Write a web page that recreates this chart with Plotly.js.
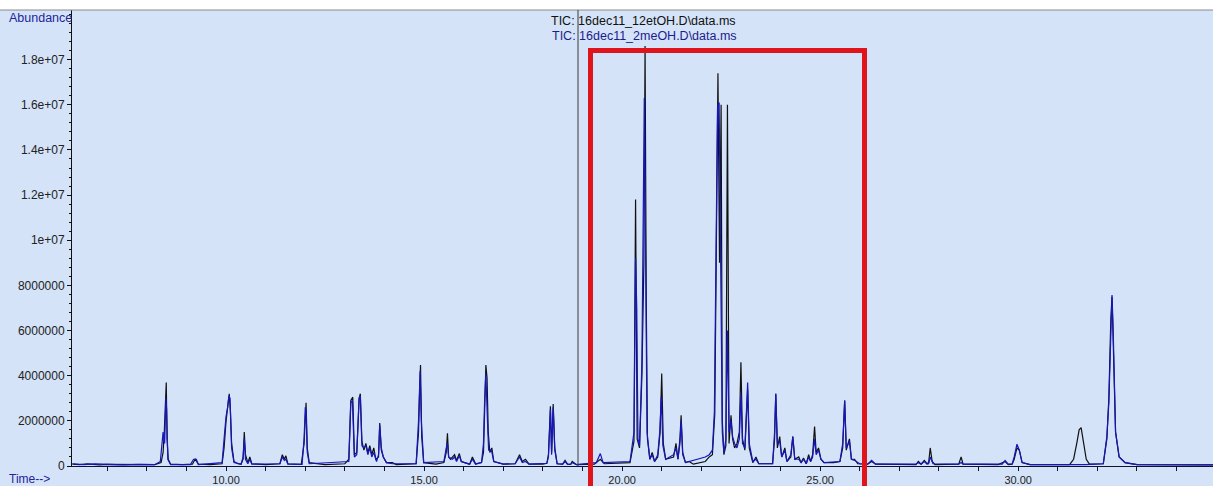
<!DOCTYPE html>
<html><head><meta charset="utf-8">
<script src="https://cdn.plot.ly/plotly-3.0.1.min.js"></script>
<style>html,body{margin:0;padding:0;background:#D4E3F8;}</style>
</head><body>
<div id="chart" style="width:1213px;height:486px;"></div>
<script>
// Series names
const seriesEt = "TIC: 16dec11_12etOH.D\\data.ms";
const seriesMe = "TIC: 16dec11_2meOH.D\\data.ms";

// Retention time (min) and abundance, etOH run (black)
const etTime = [6.12,6.3,6.5,6.8,7.0,7.3,7.6,7.9,8.2,8.36,8.41,8.44,8.47,8.49,8.51,8.54,8.6,8.9,9.15,9.22,9.3,9.6,9.9,9.95,10.0,10.05,10.08,10.11,10.14,10.2,10.3,10.38,10.43,10.46,10.49,10.55,10.6,10.65,11.0,11.36,11.42,11.47,11.51,11.56,11.9,11.97,12.0,12.02,12.05,12.1,12.5,13.0,13.1,13.15,13.2,13.24,13.3,13.36,13.39,13.43,13.48,13.53,13.58,13.63,13.68,13.73,13.78,13.85,13.88,13.92,13.97,14.05,14.2,14.3,14.8,14.86,14.89,14.91,14.94,14.99,15.3,15.5,15.56,15.59,15.62,15.67,15.72,15.77,15.82,15.89,15.94,16.02,16.15,16.22,16.3,16.45,16.5,16.53,16.56,16.59,16.62,16.66,16.71,16.76,17.0,17.3,17.41,17.48,17.56,17.65,18.0,18.1,18.14,18.19,18.22,18.26,18.3,18.36,18.5,18.56,18.62,18.7,18.74,18.85,19.3,19.45,19.55,20.2,20.3,20.34,20.38,20.44,20.5,20.55,20.58,20.61,20.64,20.7,20.76,20.82,20.9,20.96,21.0,21.04,21.1,21.3,21.36,21.41,21.46,21.49,21.53,21.6,21.69,21.8,22.1,22.2,22.28,22.34,22.38,22.42,22.46,22.5,22.53,22.57,22.62,22.66,22.7,22.75,22.79,22.84,22.9,22.96,23.0,23.04,23.1,23.17,23.21,23.3,23.38,23.45,23.8,23.85,23.88,23.92,23.98,24.03,24.11,24.16,24.26,24.31,24.36,24.46,24.52,24.58,24.65,24.71,24.76,24.81,24.86,24.9,24.96,25.02,25.1,25.34,25.5,25.57,25.62,25.66,25.74,25.79,25.87,25.95,26.2,26.3,26.4,27.0,27.42,27.48,27.55,27.63,27.7,27.74,27.78,27.83,27.9,28.5,28.56,28.61,29.5,29.67,29.75,29.85,29.9,29.97,30.03,30.1,30.3,31.3,31.4,31.48,31.54,31.59,31.64,31.72,31.8,32.15,32.24,32.29,32.34,32.37,32.4,32.46,32.55,32.7,33.0,34.92];
const etAbund = [80000,60000,90000,50000,70000,60000,50000,70000,60000,150000,600000,1500000,2500000,3700000,1200000,300000,80000,60000,80000,300000,80000,60000,100000,800000,2000000,2900000,3200000,2400000,1000000,200000,100000,80000,300000,1500000,500000,150000,400000,100000,60000,100000,500000,300000,450000,100000,70000,1000000,2500000,2800000,800000,150000,60000,100000,300000,2900000,3050000,500000,600000,3000000,3200000,1100000,700000,1000000,600000,900000,500000,800000,300000,400000,1900000,700000,400000,150000,150000,60000,100000,1500000,3500000,4470000,1300000,150000,80000,150000,600000,1450000,400000,300000,400000,500000,250000,550000,200000,150000,80000,400000,100000,150000,600000,2500000,4470000,3900000,1500000,600000,800000,200000,80000,100000,500000,200000,300000,80000,80000,120000,500000,2650000,600000,2750000,800000,100000,80000,250000,80000,70000,200000,60000,80000,300000,100000,150000,1100000,11800000,1200000,800000,4000000,9000000,18600000,7300000,1200000,300000,600000,200000,400000,1500000,4100000,1000000,300000,400000,1000000,300000,1200000,2250000,600000,150000,200000,80000,200000,400000,500000,2300000,9000000,17400000,9000000,16000000,2000000,500000,900000,16000000,1000000,2250000,1200000,800000,1000000,1500000,4600000,1200000,700000,3400000,800000,150000,400000,100000,100000,1200000,3200000,800000,1300000,400000,800000,200000,400000,1300000,300000,400000,150000,350000,100000,500000,200000,500000,1750000,600000,800000,300000,150000,150000,200000,800000,2900000,700000,1200000,300000,300000,100000,80000,200000,80000,60000,60000,200000,80000,250000,100000,150000,800000,200000,60000,80000,400000,80000,60000,200000,60000,80000,300000,800000,700000,150000,60000,60000,300000,1000000,1600000,1700000,1200000,300000,80000,100000,1200000,3000000,6500000,7500000,5500000,1500000,400000,150000,60000,50000];

// Retention time (min) and abundance, meOH run (blue)
const meTime = [6.12,6.4,6.7,7.0,7.4,7.8,8.2,8.34,8.41,8.45,8.48,8.5,8.53,8.6,9.1,9.18,9.25,9.3,9.9,9.95,10.0,10.04,10.07,10.1,10.14,10.2,10.38,10.43,10.46,10.49,10.55,10.6,10.65,11.36,11.42,11.47,11.51,11.56,11.92,11.97,12.0,12.02,12.05,12.1,13.1,13.15,13.19,13.24,13.3,13.36,13.39,13.43,13.48,13.53,13.58,13.63,13.68,13.73,13.8,13.85,13.88,13.92,13.97,14.05,14.2,14.8,14.86,14.9,14.93,14.99,15.5,15.56,15.59,15.62,15.67,15.72,15.77,15.82,15.89,15.94,16.02,16.15,16.22,16.3,16.45,16.5,16.53,16.56,16.6,16.63,16.7,16.76,17.0,17.3,17.41,17.48,17.56,17.65,18.1,18.14,18.19,18.22,18.26,18.3,18.36,18.5,18.56,18.62,18.7,18.74,18.85,19.35,19.45,19.52,20.2,20.3,20.34,20.37,20.4,20.44,20.5,20.56,20.6,20.63,20.7,20.76,20.82,20.9,20.95,20.99,21.03,21.1,21.3,21.36,21.41,21.46,21.49,21.53,21.6,22.1,22.2,22.28,22.33,22.37,22.41,22.45,22.49,22.53,22.57,22.62,22.66,22.7,22.75,22.79,22.84,22.9,22.96,23.0,23.04,23.1,23.17,23.21,23.3,23.38,23.45,23.8,23.85,23.88,23.92,23.98,24.03,24.11,24.16,24.26,24.31,24.36,24.46,24.52,24.58,24.65,24.71,24.76,24.81,24.86,24.9,24.96,25.02,25.1,25.5,25.57,25.62,25.66,25.74,25.79,25.87,26.0,26.2,26.3,26.4,27.42,27.48,27.55,27.63,27.7,27.74,27.78,27.85,28.5,28.56,28.61,29.6,29.67,29.75,29.85,29.9,29.97,30.03,30.1,30.3,31.5,31.59,31.7,32.15,32.24,32.29,32.34,32.37,32.4,32.46,32.55,32.7,33.0,34.92];
const meAbund = [100000,60000,90000,60000,50000,70000,60000,200000,1500000,1000000,3000000,2500000,300000,60000,60000,300000,300000,60000,150000,1200000,2200000,2600000,3100000,3000000,800000,150000,80000,400000,1200000,300000,100000,300000,80000,100000,400000,250000,300000,80000,70000,1200000,2600000,2400000,600000,100000,200000,2800000,2900000,400000,500000,3000000,3100000,900000,800000,900000,500000,800000,400000,600000,200000,500000,1800000,800000,400000,150000,100000,100000,2000000,4200000,2000000,150000,200000,800000,1000000,400000,350000,300000,400000,200000,450000,200000,150000,80000,300000,80000,150000,1000000,3000000,4100000,2000000,700000,700000,200000,80000,100000,400000,150000,200000,80000,120000,400000,2500000,500000,2600000,700000,100000,80000,200000,80000,70000,150000,60000,150000,550000,150000,200000,1500000,9200000,7000000,1200000,900000,4600000,16300000,8000000,1500000,300000,500000,200000,500000,1500000,3050000,900000,300000,500000,800000,300000,1000000,2000000,500000,150000,400000,500000,700000,2400000,9500000,15900000,16100000,7000000,1500000,600000,1200000,6000000,1500000,2000000,1300000,1000000,800000,1200000,3200000,1000000,800000,3700000,1000000,200000,300000,100000,100000,1500000,3200000,1000000,1100000,400000,700000,200000,500000,1300000,300000,300000,150000,300000,100000,400000,200000,400000,1200000,500000,700000,300000,150000,200000,1000000,2900000,800000,1100000,300000,250000,100000,80000,250000,80000,80000,150000,80000,200000,80000,100000,400000,100000,80000,150000,80000,80000,250000,80000,100000,400000,970000,700000,150000,60000,60000,80000,60000,100000,1300000,2800000,6000000,7570000,6000000,1500000,400000,150000,60000,50000];

// Axis ticks
const yTickVals = [0,2e6,4e6,6e6,8e6,1e7,1.2e7,1.4e7,1.6e7,1.8e7];
const yTickText = ["0","2000000","4000000","6000000","8000000","1e+07","1.2e+07","1.4e+07","1.6e+07","1.8e+07"];
const xTickVals = [10,15,20,25,30];
const xTickText = ["10.00","15.00","20.00","25.00","30.00"];

const W = 1213, H = 486, L = 72, R = 0, T = 10, B = 20;
const pw = W - L - R, ph = H - T - B;
const px = v => (v - L) / pw;           // pixel x -> paper
const py = v => (H - B - v) / ph;       // pixel y -> paper

const traces = [
  {x: etTime, y: etAbund, type: 'scatter', mode: 'lines', name: seriesEt,
   line: {color: '#111111', width: 1.2}, hoverinfo: 'skip'},
  {x: meTime, y: meAbund, type: 'scatter', mode: 'lines', name: seriesMe,
   line: {color: '#1616BE', width: 1.2}, hoverinfo: 'skip'}
];

const FAM = 'Liberation Sans, Arial, sans-serif';
const tickFont = {family: FAM, size: 12, color: '#222222'};

const layout = {
  width: W, height: H,
  margin: {l: L, r: R, t: T, b: B, pad: 0},
  paper_bgcolor: '#D4E3F8',
  plot_bgcolor: '#D4E3F8',
  showlegend: false,
  xaxis: {
    range: [6.11, 34.92], showgrid: false, zeroline: false,
    showline: true, linecolor: '#101030', linewidth: 1,
    ticks: 'outside', ticklen: 4, tickcolor: '#101030',
    tickvals: xTickVals, ticktext: xTickText,
    tickfont: {family: FAM, size: 11, color: '#222222'},
    minor: {dtick: 1, tick0: 0, ticks: 'outside', ticklen: 4, tickcolor: '#101030', showgrid: false},
    fixedrange: true
  },
  yaxis: {
    range: [0, 2.02e7], showgrid: false, zeroline: false,
    showline: true, linecolor: '#101010', linewidth: 1,
    ticks: 'outside', ticklen: 4, tickcolor: '#101010',
    tickvals: yTickVals, ticktext: yTickText, tickfont: tickFont,
    minor: {dtick: 4e5, tick0: 0, ticks: 'outside', ticklen: 2, tickcolor: '#101010', showgrid: false},
    fixedrange: true
  },
  shapes: [
    {type: 'rect', xref: 'paper', yref: 'paper', x0: -0.1, x1: 1.01, y0: 1, y1: 1.04,
     fillcolor: '#FFFFFF', line: {width: 0}, layer: 'above'},
    {type: 'line', xref: 'paper', yref: 'paper', x0: -0.1, x1: 1.01, y0: 1, y1: 1,
     line: {color: '#8A8A8A', width: 1}, layer: 'above'},
    {type: 'line', xref: 'paper', yref: 'paper', x0: px(578), x1: px(578), y0: 0, y1: 1,
     line: {color: '#3A3A3A', width: 1}, layer: 'above'},
    {type: 'rect', xref: 'paper', yref: 'paper', x0: px(590.5), x1: px(864.5), y0: py(495), y1: py(50.5),
     line: {color: '#E0141B', width: 5}, fillcolor: 'rgba(0,0,0,0)', layer: 'above'}
  ],
  annotations: [
    {text: 'Abundance', xref: 'paper', yref: 'paper', x: px(7), y: py(18), xanchor: 'left', yanchor: 'middle',
     showarrow: false, font: {family: FAM, size: 12.5, color: '#24249A'}},
    {text: 'Time-->', xref: 'paper', yref: 'paper', x: px(7), y: py(479), xanchor: 'left', yanchor: 'middle',
     showarrow: false, font: {family: FAM, size: 12, color: '#24249A'}},
    {text: seriesEt, xref: 'paper', yref: 'paper', x: px(549), y: py(21), xanchor: 'left', yanchor: 'middle',
     showarrow: false, font: {family: FAM, size: 12.5, color: '#111111'}},
    {text: seriesMe, xref: 'paper', yref: 'paper', x: px(550), y: py(36), xanchor: 'left', yanchor: 'middle',
     showarrow: false, font: {family: FAM, size: 12.5, color: '#1C1C8C'}}
  ]
};

Plotly.newPlot('chart', traces, layout, {staticPlot: true, displayModeBar: false});
</script>
</body></html>
